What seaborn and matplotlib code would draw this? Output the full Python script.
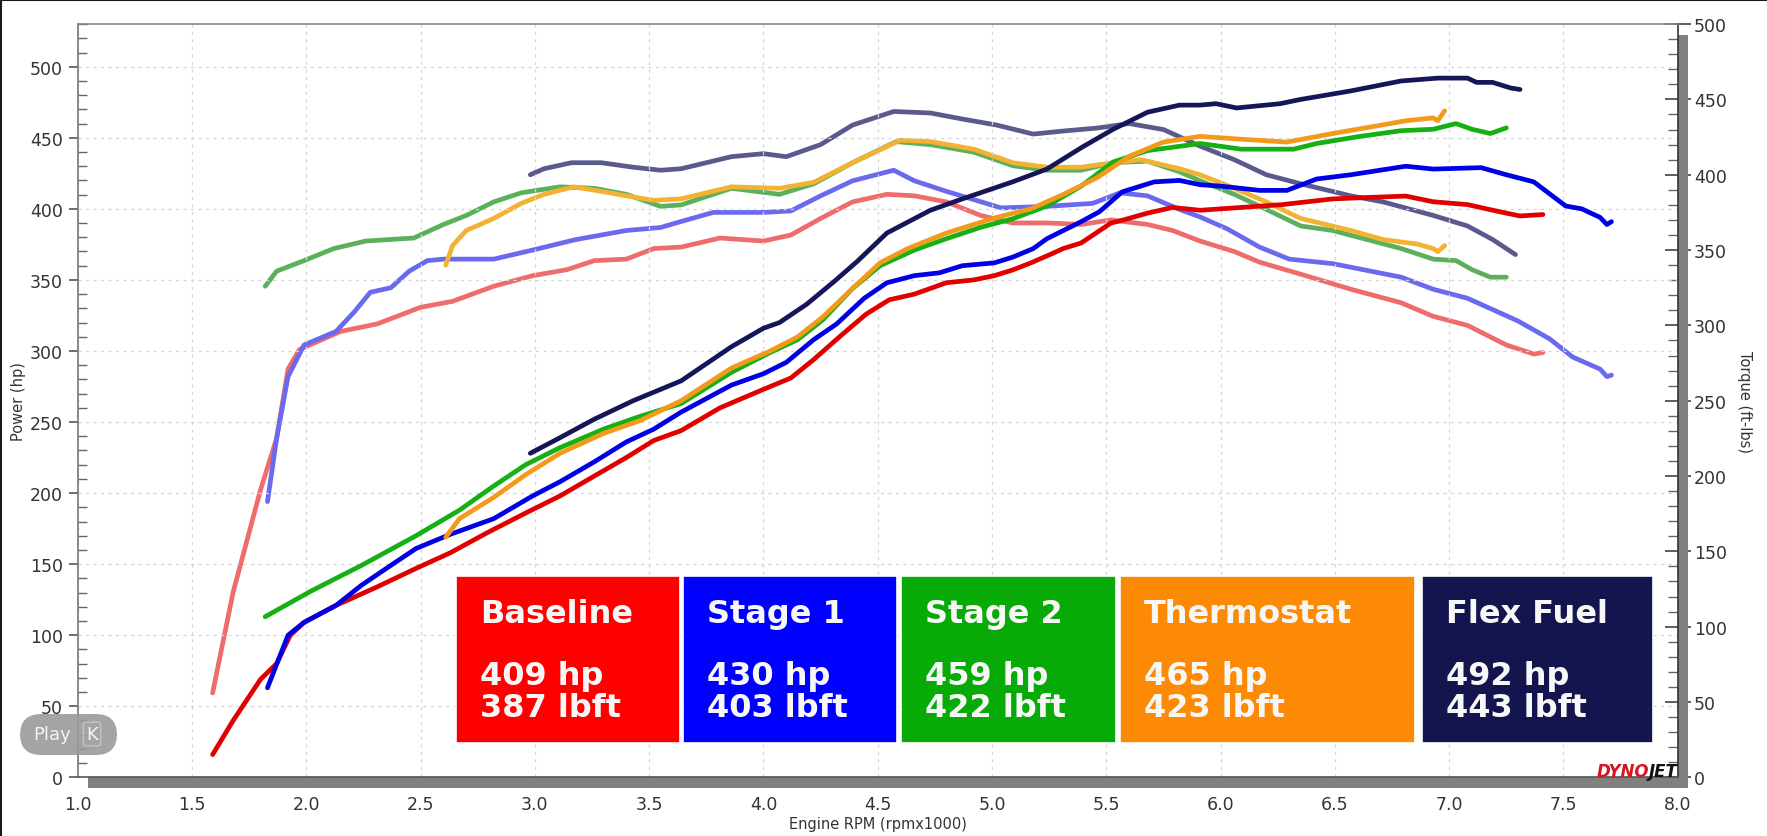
import numpy as np
import pandas as pd
import matplotlib
matplotlib.use('Agg')
import matplotlib.pyplot as plt
from matplotlib.patches import Rectangle, FancyBboxPatch
from matplotlib.lines import Line2D
from matplotlib.ticker import MultipleLocator, FormatStrFormatter
import seaborn as sns

# runs and peak figures shown in the colour boxes
runs = ['Baseline', 'Stage 1', 'Stage 2', 'Thermostat', 'Flex Fuel']
peak_hp = [409, 430, 459, 465, 492]
peak_tq = [387, 403, 422, 423, 443]

# Baseline
bl_hp_rpm = [1.59, 1.68, 1.80, 1.87, 1.93, 1.99, 2.13, 2.31, 2.48, 2.63, 2.79, 2.96, 3.11, 3.26, 3.40, 3.52,
             3.64, 3.81, 4.00, 4.12, 4.22, 4.34, 4.45, 4.55, 4.66, 4.80, 4.92, 5.01, 5.09, 5.17, 5.27, 5.31,
             5.39, 5.52, 5.57, 5.68, 5.79, 5.91, 6.09, 6.27, 6.49, 6.64, 6.81, 6.93, 7.08, 7.22, 7.31, 7.41]
bl_hp = [16, 40, 69, 80, 100, 109, 121, 134, 147, 158, 172, 186, 198, 212, 225, 237,
         244, 260, 273, 281, 294, 311, 326, 336, 340, 348, 350, 353, 357, 362, 369, 372,
         376, 390, 392, 397, 401, 399, 401, 403, 407, 408, 409, 405, 403, 398, 395, 396]
bl_tq_rpm = [1.59, 1.68, 1.80, 1.87, 1.92, 1.97, 2.15, 2.31, 2.50, 2.64, 2.82, 2.99, 3.14, 3.26, 3.40, 3.52,
             3.64, 3.81, 4.00, 4.12, 4.25, 4.39, 4.54, 4.66, 4.80, 4.95, 5.09, 5.24, 5.39, 5.52, 5.68, 5.79,
             5.91, 6.06, 6.17, 6.35, 6.57, 6.79, 6.93, 7.08, 7.25, 7.37, 7.41]
bl_tq = [56, 123, 191, 225, 271, 284, 296, 301, 312, 316, 326, 333, 337, 343, 344, 351,
         352, 358, 356, 360, 371, 382, 387, 386, 382, 373, 368, 368, 367, 370, 367, 363,
         356, 349, 342, 334, 324, 315, 306, 300, 287, 281, 282]

# Stage 1
s1_hp_rpm = [1.83, 1.92, 1.99, 2.13, 2.24, 2.35, 2.48, 2.63, 2.82, 2.99, 3.11, 3.26, 3.40, 3.52, 3.64, 3.86,
             4.00, 4.10, 4.22, 4.32, 4.44, 4.54, 4.66, 4.77, 4.87, 5.01, 5.09, 5.18, 5.24, 5.39, 5.47, 5.57,
             5.71, 5.82, 5.91, 6.00, 6.17, 6.29, 6.42, 6.57, 6.81, 6.93, 7.14, 7.25, 7.37, 7.51, 7.58, 7.66,
             7.69, 7.71]
s1_hp = [63, 100, 109, 121, 135, 147, 161, 171, 182, 198, 208, 222, 236, 245, 257, 276,
         284, 292, 308, 319, 337, 348, 353, 355, 360, 362, 366, 372, 379, 391, 398, 412,
         419, 420, 417, 416, 413, 413, 421, 424, 430, 428, 429, 424, 419, 402, 400, 394,
         389, 391]
s1_tq_rpm = [1.83, 1.87, 1.92, 1.99, 2.13, 2.21, 2.28, 2.37, 2.45, 2.53, 2.60, 2.82, 2.99, 3.18, 3.40, 3.55,
             3.64, 3.78, 4.00, 4.12, 4.25, 4.39, 4.57, 4.66, 4.80, 5.04, 5.24, 5.44, 5.56, 5.68, 5.82, 5.91,
             6.03, 6.17, 6.30, 6.49, 6.79, 6.93, 7.08, 7.30, 7.44, 7.54, 7.66, 7.69, 7.71]
s1_tq = [183, 225, 266, 287, 296, 309, 322, 325, 336, 343, 344, 344, 350, 357, 363, 365,
         369, 375, 375, 376, 386, 396, 403, 396, 389, 378, 379, 381, 388, 386, 377, 372,
         364, 352, 344, 341, 332, 324, 318, 303, 291, 279, 271, 266, 267]

# Stage 2
s2_hp_rpm = [1.82, 2.02, 2.24, 2.48, 2.67, 2.82, 2.96, 3.11, 3.30, 3.46, 3.64, 3.86, 4.03, 4.15, 4.26, 4.39,
             4.51, 4.66, 4.80, 4.95, 5.09, 5.24, 5.39, 5.53, 5.68, 5.82, 5.91, 6.09, 6.32, 6.42, 6.61, 6.79,
             6.93, 7.03, 7.10, 7.18, 7.25]
s2_hp = [113, 131, 149, 170, 188, 205, 220, 232, 245, 254, 263, 285, 299, 308, 322, 344,
         360, 371, 379, 387, 393, 402, 416, 433, 441, 444, 446, 442, 442, 446, 451, 455,
         456, 460, 456, 453, 457]
s2_tq_rpm = [1.82, 1.87, 1.99, 2.12, 2.26, 2.47, 2.60, 2.70, 2.82, 2.94, 3.11, 3.26, 3.40, 3.55, 3.64, 3.86,
             4.07, 4.22, 4.39, 4.58, 4.73, 4.92, 5.09, 5.24, 5.39, 5.53, 5.68, 5.82, 5.91, 6.06, 6.20, 6.35,
             6.49, 6.64, 6.79, 6.93, 7.03, 7.10, 7.18, 7.25]
s2_tq = [326, 336, 343, 351, 356, 358, 367, 373, 382, 388, 392, 391, 387, 379, 380, 391,
         387, 394, 408, 422, 420, 415, 406, 403, 403, 408, 409, 402, 396, 387, 377, 366,
         363, 357, 351, 344, 343, 337, 332, 332]

# Thermostat
th_hp_rpm = [2.61, 2.67, 2.82, 2.96, 3.11, 3.30, 3.46, 3.64, 3.86, 4.03, 4.15, 4.26, 4.39, 4.51, 4.63, 4.80,
             5.02, 5.17, 5.31, 5.46, 5.60, 5.75, 5.91, 6.09, 6.29, 6.49, 6.67, 6.81, 6.93, 6.95, 6.98]
th_hp = [169, 182, 197, 213, 228, 242, 251, 265, 288, 300, 310, 324, 344, 362, 372, 383,
         394, 400, 410, 422, 437, 447, 451, 449, 447, 453, 458, 462, 464, 462, 469]
th_tq_rpm = [2.61, 2.64, 2.70, 2.82, 2.94, 3.04, 3.17, 3.29, 3.40, 3.52, 3.64, 3.86, 4.07, 4.22, 4.39, 4.60,
             4.73, 4.92, 5.09, 5.24, 5.39, 5.53, 5.65, 5.82, 5.91, 6.06, 6.20, 6.35, 6.57, 6.71, 6.86, 6.93,
             6.95, 6.98]
th_tq = [340, 353, 363, 371, 381, 387, 392, 389, 386, 383, 384, 392, 391, 395, 408, 423,
         422, 417, 408, 405, 405, 408, 410, 404, 400, 391, 382, 371, 363, 357, 354, 351,
         349, 353]

# Flex Fuel
ff_hp_rpm = [2.98, 3.11, 3.26, 3.43, 3.64, 3.86, 4.00, 4.07, 4.19, 4.31, 4.41, 4.54, 4.73, 4.87, 5.09, 5.24,
             5.39, 5.53, 5.68, 5.82, 5.91, 5.98, 6.07, 6.26, 6.35, 6.57, 6.79, 6.95, 7.08, 7.12, 7.19, 7.27,
             7.31]
ff_hp = [228, 239, 252, 265, 279, 303, 316, 320, 333, 349, 363, 383, 399, 407, 419, 428,
         443, 456, 468, 473, 473, 474, 471, 474, 477, 483, 490, 492, 492, 489, 489, 485,
         484]
ff_tq_rpm = [2.98, 3.04, 3.16, 3.29, 3.43, 3.55, 3.64, 3.86, 4.00, 4.10, 4.25, 4.39, 4.57, 4.73, 4.87, 5.02,
             5.18, 5.31, 5.46, 5.60, 5.75, 5.91, 6.06, 6.20, 6.35, 6.57, 6.71, 6.93, 7.08, 7.19, 7.29]
ff_tq = [400, 404, 408, 408, 405, 403, 404, 412, 414, 412, 420, 433, 442, 441, 437, 433,
         427, 429, 431, 434, 430, 419, 410, 400, 394, 386, 382, 373, 366, 357, 347]

hp_colors = {'Baseline': '#e10000', 'Stage 1': '#0000e6', 'Stage 2': '#14b014',
             'Thermostat': '#f29a1c', 'Flex Fuel': '#15155a'}
tq_colors = {'Baseline': '#ee6c6c', 'Stage 1': '#6a6aee', 'Stage 2': '#5cb05c',
             'Thermostat': '#f3b232', 'Flex Fuel': '#5a5a8e'}
box_colors = {'Baseline': '#ff0000', 'Stage 1': '#0000ff', 'Stage 2': '#08aa08',
              'Thermostat': '#fd8a04', 'Flex Fuel': '#14144e'}

# tidy tables for seaborn
hp_df = pd.concat([pd.DataFrame({'rpm': r, 'hp': v, 'run': n}) for r, v, n in
                   zip([bl_hp_rpm, s1_hp_rpm, s2_hp_rpm, th_hp_rpm, ff_hp_rpm],
                       [bl_hp, s1_hp, s2_hp, th_hp, ff_hp], runs)])
tq_df = pd.concat([pd.DataFrame({'rpm': r, 'tq': v, 'run': n}) for r, v, n in
                   zip([bl_tq_rpm, s1_tq_rpm, s2_tq_rpm, th_tq_rpm, ff_tq_rpm],
                       [bl_tq, s1_tq, s2_tq, th_tq, ff_tq], runs)])

sns.set_style('white')
plt.rcParams['font.family'] = ['DejaVu Sans']

fig = plt.figure(figsize=(17.67, 8.37), dpi=100)
ax = fig.add_axes([0.044, 0.0701, 0.9055, 0.8999])
ax2 = ax.twinx()
ax.set_zorder(ax2.get_zorder() + 1)
ax.patch.set_visible(False)

# torque on the right axis, power on top
sns.lineplot(data=tq_df, x='rpm', y='tq', hue='run', hue_order=runs, palette=tq_colors,
             sort=False, estimator=None, linewidth=3.4, legend=False, ax=ax2,
             solid_capstyle='round', solid_joinstyle='round')
sns.lineplot(data=hp_df, x='rpm', y='hp', hue='run', hue_order=runs, palette=hp_colors,
             sort=False, estimator=None, linewidth=3.4, legend=False, ax=ax,
             solid_capstyle='round', solid_joinstyle='round')

ax.set_xlim(1.0, 8.0)
ax.set_ylim(0, 530)
ax2.set_ylim(0, 500)

ax.xaxis.set_major_locator(MultipleLocator(0.5))
ax.xaxis.set_minor_locator(MultipleLocator(0.1))
ax.xaxis.set_major_formatter(FormatStrFormatter('%.1f'))
ax.yaxis.set_major_locator(MultipleLocator(50))
ax.yaxis.set_minor_locator(MultipleLocator(10))
ax2.yaxis.set_major_locator(MultipleLocator(50))
ax2.yaxis.set_minor_locator(MultipleLocator(10))

ax.grid(True, which='major', color='#d6d6d6', linestyle=(0, (2.5, 3.5)), linewidth=0.9)
ax2.grid(False)

ax.tick_params(axis='x', which='major', direction='out', length=8, width=1.2, color='#444',
               labelsize=12.5, labelcolor='#333', pad=5)
ax.tick_params(axis='x', which='minor', direction='in', length=8, width=1, color='#666')
ax.tick_params(axis='y', which='major', direction='out', length=6.5, width=1.2, color='#555',
               labelsize=12.5, labelcolor='#333', pad=4)
ax.tick_params(axis='y', which='minor', direction='in', length=6.5, width=1, color='#666')
ax2.tick_params(axis='y', which='major', direction='inout', length=19, width=1.2, color='#444',
                labelsize=12.5, labelcolor='#333', pad=2)
ax2.tick_params(axis='y', which='minor', direction='in', length=7, width=1, color='#666')

for side, col in [('left', '#777777'), ('top', '#888888'), ('bottom', '#555555'), ('right', '#333333')]:
    ax.spines[side].set_color(col)
    ax.spines[side].set_linewidth(1.2)
for s in ax2.spines.values():
    s.set_visible(False)

ax.set_xlabel('Engine RPM (rpmx1000)', fontsize=10.5, color='#333')
ax.set_ylabel('Power (hp)', fontsize=10.5, color='#333')
ax2.set_ylabel('Torque (ft-lbs)', fontsize=10.5, color='#333', rotation=270, va='center')
ax.xaxis.set_label_coords(0.5, -0.061)
ax.xaxis.label.set_va('center')
ax.yaxis.set_label_coords(-0.0373, 0.5)
ax.yaxis.label.set_va('center')
ax2.yaxis.set_label_coords(1.042, 0.5)

# grey shadow strips along bottom and right of the plot frame
ax.add_patch(Rectangle((0.0064, -0.0142), 1.0, 0.0142, transform=ax.transAxes,
                       color='#808080', clip_on=False, zorder=1, lw=0))
ax.add_patch(Rectangle((1.0, -0.0142), 0.0064, 0.9996, transform=ax.transAxes,
                       color='#808080', clip_on=False, zorder=1, lw=0))

# result boxes
box_x = [(2.655, 3.635), (3.648, 4.584), (4.601, 5.542), (5.56, 6.85), (6.88, 7.89)]
for (x0, x1), name, hp, tq in zip(box_x, runs, peak_hp, peak_tq):
    ax.add_patch(Rectangle((x0, 24.1), x1 - x0, 117.5, facecolor=box_colors[name],
                           edgecolor='white', linewidth=1.2, zorder=4))
    tx = x0 + 0.105
    ax.text(tx, 115.6, name, color='#f7f7f7', fontsize=23, fontweight='bold',
            ha='left', va='center', zorder=5)
    ax.text(tx, 71.3, f'{hp} hp', color='#f7f7f7', fontsize=23, fontweight='bold',
            ha='left', va='center', zorder=5)
    ax.text(tx, 48.8, f'{tq} lbft', color='#f7f7f7', fontsize=23, fontweight='bold',
            ha='left', va='center', zorder=5)

# DYNOJET mark
fig.text(1597 / 1767, 1 - 772 / 837, 'DYNO', color='#d8141e', fontsize=12, fontweight='bold',
         fontstyle='italic', ha='left', va='center')
fig.text(1678 / 1767, 1 - 772 / 837, 'JET', color='#111111', fontsize=12, fontweight='bold',
         fontstyle='italic', ha='right', va='center')

# video overlay button
fig.patches.append(FancyBboxPatch((20 / 1767, 1 - 756 / 837), 97 / 1767, 41 / 837,
                                  boxstyle='round,pad=0,rounding_size=0.012',
                                  transform=fig.transFigure, facecolor='#9a9a9a',
                                  edgecolor='none', alpha=0.9, mutation_aspect=2.1))
fig.text(52 / 1767, 1 - 735 / 837, 'Play', color='#f4f4f4', fontsize=13, ha='center', va='center')
fig.text(92 / 1767, 1 - 735 / 837, 'K', color='#f4f4f4', fontsize=13, ha='center', va='center',
         bbox=dict(boxstyle='round,pad=0.15', facecolor='none', edgecolor='#c4c4c4', lw=1))

# screenshot frame edges
fig.add_artist(Line2D([0, 1], [0.9988, 0.9988], transform=fig.transFigure, color='#1a1a1a', lw=1.5))
fig.add_artist(Line2D([0.0006, 0.0006], [0, 1], transform=fig.transFigure, color='#1a1a1a', lw=1.5))

fig.savefig('out.png', dpi=100)
